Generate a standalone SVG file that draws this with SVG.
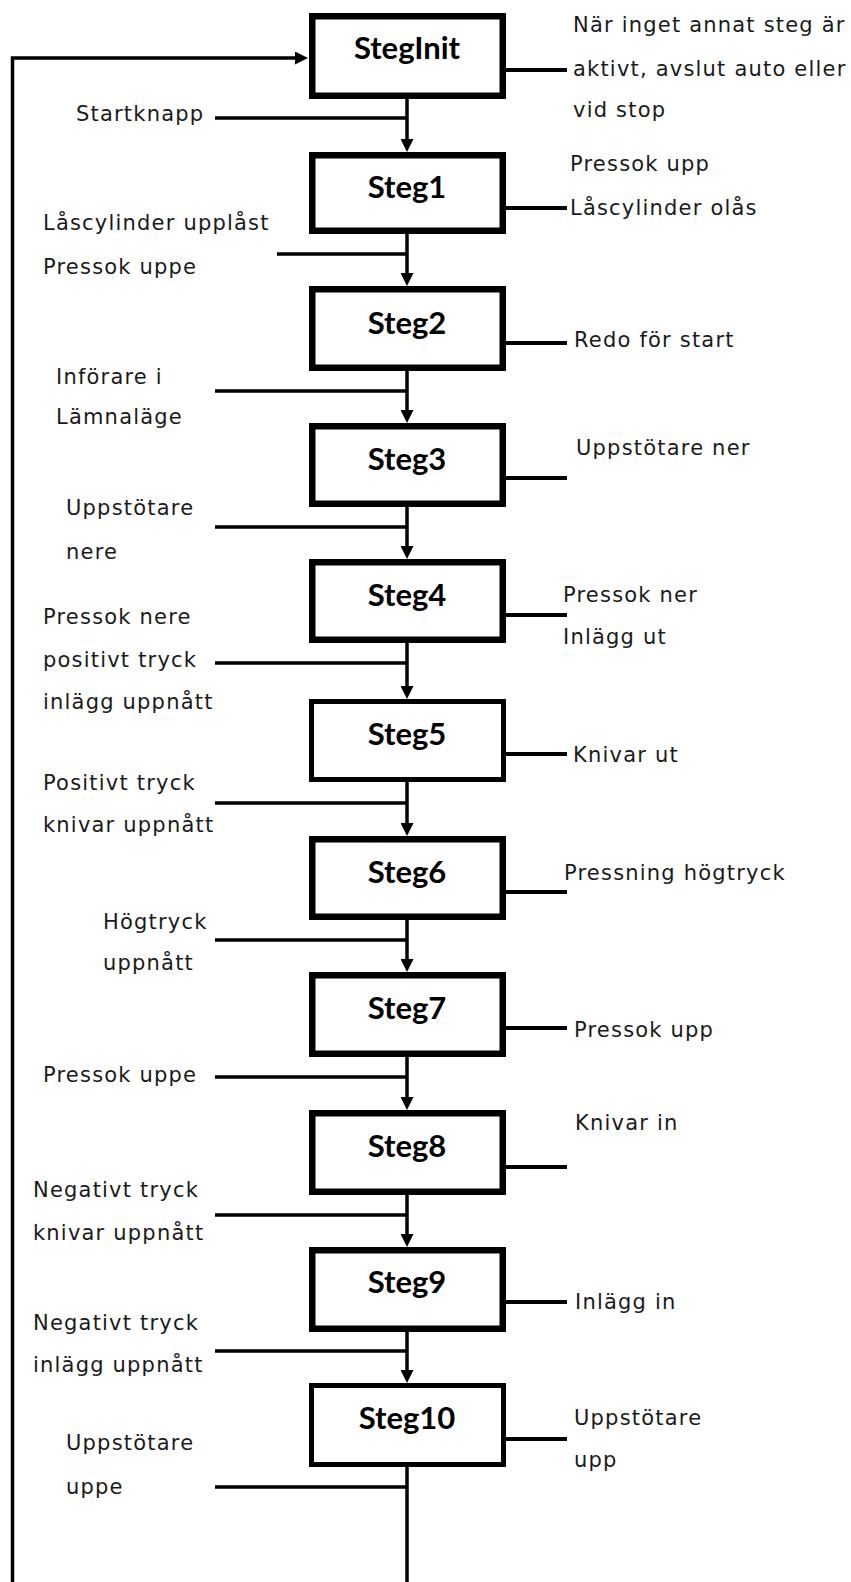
<svg xmlns="http://www.w3.org/2000/svg" width="851" height="1582" viewBox="0 0 851 1582">
  <style>
    .box { fill: #ffffff; stroke: #000000; }
    .thick { stroke-width: 6.5; }
    .thin { stroke-width: 5; }
    .step { font-family: "Lato", "Open Sans", sans-serif; font-weight: bold; font-size: 31px; fill: #000000; text-anchor: middle; }
    .lbl { font-family: "DejaVu Sans", "Liberation Sans", sans-serif; font-size: 21px; letter-spacing: 1.2px; fill: #1a1a1a; }
    .flow { fill: none; stroke: #000000; stroke-width: 3.5; }
    .cond { fill: none; stroke: #000000; stroke-width: 3.5; }
    .act { fill: none; stroke: #000000; stroke-width: 4; }
  </style>
  <defs>
    <marker id="arrow" viewBox="0 0 13 13" refX="1" refY="6.5" markerWidth="13" markerHeight="13" markerUnits="userSpaceOnUse" orient="auto">
      <path d="M0,0 L13,6.5 L0,13 z" fill="#000000"/>
    </marker>
  </defs>

  <!-- connectors: step sequence, transition conditions, action stubs, return loop -->
  <g id="connectors">
    <path class="flow" d="M12.5,1582 V58 H296" marker-end="url(#arrow)"/>
    <path class="flow" d="M407,99 V140" marker-end="url(#arrow)"/>
    <path class="flow" d="M407,234 V274" marker-end="url(#arrow)"/>
    <path class="flow" d="M407,371 V411" marker-end="url(#arrow)"/>
    <path class="flow" d="M407,507 V547" marker-end="url(#arrow)"/>
    <path class="flow" d="M407,643 V687" marker-end="url(#arrow)"/>
    <path class="flow" d="M407,782 V824" marker-end="url(#arrow)"/>
    <path class="flow" d="M407,920 V960" marker-end="url(#arrow)"/>
    <path class="flow" d="M407,1057 V1098" marker-end="url(#arrow)"/>
    <path class="flow" d="M407,1195 V1235" marker-end="url(#arrow)"/>
    <path class="flow" d="M407,1332 V1371" marker-end="url(#arrow)"/>
    <path class="flow" d="M407,1467 V1582"/>

    <path class="cond" d="M215,118 H407"/>
    <path class="cond" d="M277,254 H407"/>
    <path class="cond" d="M215,391 H407"/>
    <path class="cond" d="M215,527 H407"/>
    <path class="cond" d="M215,663 H407"/>
    <path class="cond" d="M215,803 H407"/>
    <path class="cond" d="M215,940 H407"/>
    <path class="cond" d="M215,1077 H407"/>
    <path class="cond" d="M215,1215 H407"/>
    <path class="cond" d="M215,1351 H407"/>
    <path class="cond" d="M215,1487 H407"/>

    <path class="act" d="M506,70 H567"/>
    <path class="act" d="M506,208 H567"/>
    <path class="act" d="M506,343 H567"/>
    <path class="act" d="M506,478 H567"/>
    <path class="act" d="M506,615 H567"/>
    <path class="act" d="M506,754 H567"/>
    <path class="act" d="M506,892 H567"/>
    <path class="act" d="M506,1028 H567"/>
    <path class="act" d="M506,1167 H567"/>
    <path class="act" d="M506,1302 H567"/>
    <path class="act" d="M506,1439 H567"/>
  </g>

  <!-- steps -->
  <g id="steginit">
    <rect class="box thick" x="312.25" y="16.25" width="190.5" height="79.5"/>
    <text class="step" x="407" y="59">StegInit</text>
  </g>
  <g id="steg1">
    <rect class="box thick" x="312.25" y="155.25" width="190.5" height="75.5"/>
    <text class="step" x="407" y="198">Steg1</text>
  </g>
  <g id="steg2">
    <rect class="box thick" x="312.25" y="289.25" width="190.5" height="78.5"/>
    <text class="step" x="407" y="334">Steg2</text>
  </g>
  <g id="steg3">
    <rect class="box thick" x="312.25" y="426.25" width="190.5" height="77.5"/>
    <text class="step" x="407" y="470">Steg3</text>
  </g>
  <g id="steg4">
    <rect class="box thick" x="312.25" y="562.25" width="190.5" height="77.5"/>
    <text class="step" x="407" y="606">Steg4</text>
  </g>
  <g id="steg5">
    <rect class="box thin" x="311.5" y="701.5" width="192" height="78"/>
    <text class="step" x="407" y="745">Steg5</text>
  </g>
  <g id="steg6">
    <rect class="box thick" x="312.25" y="839.25" width="190.5" height="77.5"/>
    <text class="step" x="407" y="883">Steg6</text>
  </g>
  <g id="steg7">
    <rect class="box thick" x="312.25" y="975.25" width="190.5" height="78.5"/>
    <text class="step" x="407" y="1019">Steg7</text>
  </g>
  <g id="steg8">
    <rect class="box thick" x="312.25" y="1113.25" width="190.5" height="78.5"/>
    <text class="step" x="407" y="1157">Steg8</text>
  </g>
  <g id="steg9">
    <rect class="box thick" x="312.25" y="1250.25" width="190.5" height="78.5"/>
    <text class="step" x="407" y="1293">Steg9</text>
  </g>
  <g id="steg10">
    <rect class="box thin" x="311.5" y="1385.5" width="192" height="79"/>
    <text class="step" x="407" y="1429">Steg10</text>
  </g>

  <!-- transition conditions (left) -->
  <g id="conditions">
    <text class="lbl" x="76" y="121">Startknapp</text>
    <text class="lbl" x="43" y="230">Låscylinder upplåst</text>
    <text class="lbl" x="43" y="274">Pressok uppe</text>
    <text class="lbl" x="56" y="384">Införare i</text>
    <text class="lbl" x="56" y="424">Lämnaläge</text>
    <text class="lbl" x="66" y="515">Uppstötare</text>
    <text class="lbl" x="66" y="559">nere</text>
    <text class="lbl" x="43" y="624">Pressok nere</text>
    <text class="lbl" x="43" y="667">positivt tryck</text>
    <text class="lbl" x="43" y="709">inlägg uppnått</text>
    <text class="lbl" x="43" y="790">Positivt tryck</text>
    <text class="lbl" x="43" y="832">knivar uppnått</text>
    <text class="lbl" x="103" y="929">Högtryck</text>
    <text class="lbl" x="103" y="970">uppnått</text>
    <text class="lbl" x="43" y="1082">Pressok uppe</text>
    <text class="lbl" x="33" y="1197">Negativt tryck</text>
    <text class="lbl" x="33" y="1240">knivar uppnått</text>
    <text class="lbl" x="33" y="1330">Negativt tryck</text>
    <text class="lbl" x="33" y="1372">inlägg uppnått</text>
    <text class="lbl" x="66" y="1450">Uppstötare</text>
    <text class="lbl" x="66" y="1494">uppe</text>
  </g>

  <!-- step actions (right) -->
  <g id="actions">
    <text class="lbl" x="573" y="32">När inget annat steg är</text>
    <text class="lbl" x="573" y="76">aktivt, avslut auto eller</text>
    <text class="lbl" x="573" y="117">vid stop</text>
    <text class="lbl" x="570" y="171">Pressok upp</text>
    <text class="lbl" x="570" y="215">Låscylinder olås</text>
    <text class="lbl" x="574" y="347">Redo för start</text>
    <text class="lbl" x="576" y="455">Uppstötare ner</text>
    <text class="lbl" x="563" y="602">Pressok ner</text>
    <text class="lbl" x="563" y="644">Inlägg ut</text>
    <text class="lbl" x="573" y="762">Knivar ut</text>
    <text class="lbl" x="564" y="880">Pressning högtryck</text>
    <text class="lbl" x="574" y="1037">Pressok upp</text>
    <text class="lbl" x="575" y="1130">Knivar in</text>
    <text class="lbl" x="575" y="1309">Inlägg in</text>
    <text class="lbl" x="574" y="1425">Uppstötare</text>
    <text class="lbl" x="574" y="1467">upp</text>
  </g>
</svg>
